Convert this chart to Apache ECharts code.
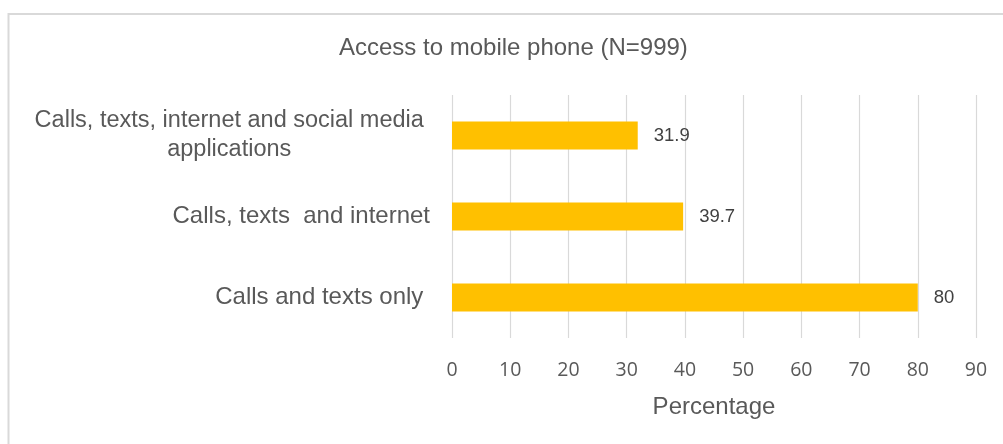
<!DOCTYPE html>
<html>
<head>
<meta charset="utf-8">
<script src="https://cdn.jsdelivr.net/npm/echarts@6/dist/echarts.min.js"></script>
<style>
  html, body { margin: 0; padding: 0; background: #ffffff; }
  #chart { width: 1003px; height: 444px; }
</style>
</head>
<body>
<div id="chart"></div>
<script>
// Access to mobile phone (N=999), share of respondents by type of use
const chartTitle = 'Access to mobile phone (N=999)';
const axisName = 'Percentage';
const categories = [
  'Calls and texts only ',
  'Calls, texts  and internet',
  'Calls, texts, internet and social media applications'
];
const percentages = [80, 39.7, 31.9];
const xTicks = { min: 0, max: 90, step: 10 };

const textGrey = '#595959';
const gridGrey = '#d9d9d9';
const barGold = '#FFC000';

const chart = echarts.init(document.getElementById('chart'), null, { renderer: 'canvas' });

// long category names wrap onto two centred lines
function wrapLabel(v) {
  if (v.length > 40) {
    const cut = v.lastIndexOf(' ');
    return '{c|' + v.slice(0, cut) + ' }\n{c|' + v.slice(cut + 1) + ' }';
  }
  return v;
}

chart.setOption({
  animation: false,
  backgroundColor: '#ffffff',
  title: {
    text: chartTitle,
    left: 339,
    top: 36,
    padding: 0,
    textStyle: {
      fontFamily: 'Liberation Sans, Arial, sans-serif',
      fontSize: 24,
      fontWeight: 'normal',
      color: textGrey
    }
  },
  graphic: [{
    type: 'rect',
    shape: { x: 8.5, y: 14, width: 1100, height: 600 },
    style: { fill: 'none', stroke: gridGrey, lineWidth: 2 },
    silent: true
  }],
  grid: { left: 452, right: 27, top: 95, bottom: 106 },
  xAxis: {
    type: 'value',
    min: xTicks.min,
    max: xTicks.max,
    interval: xTicks.step,
    name: axisName,
    nameLocation: 'middle',
    nameGap: 57,
    nameTextStyle: {
      fontFamily: 'Liberation Sans, Arial, sans-serif',
      fontSize: 24,
      color: textGrey
    },
    axisLine: { show: false },
    axisTick: { show: false },
    axisLabel: {
      margin: 22,
      fontFamily: 'Open Sans, sans-serif',
      fontSize: 19.5,
      color: textGrey
    },
    splitLine: { show: true, lineStyle: { color: gridGrey, width: 1.2 } }
  },
  yAxis: {
    type: 'category',
    data: categories,
    axisLine: { show: false },
    axisTick: { show: false },
    axisLabel: {
      margin: 22,
      align: 'right',
      fontFamily: 'Liberation Sans, Arial, sans-serif',
      fontSize: 24,
      color: textGrey,
      formatter: wrapLabel,
      rich: {
        c: {
          width: 395,
          align: 'center',
          fontFamily: 'Liberation Sans, Arial, sans-serif',
          fontSize: 23.5,
          lineHeight: 29,
          color: textGrey
        }
      }
    },
    splitLine: { show: false }
  },
  series: [{
    type: 'bar',
    data: percentages,
    barWidth: 28,
    itemStyle: { color: barGold },
    label: {
      show: true,
      position: 'right',
      distance: 16,
      fontFamily: 'Liberation Sans, Arial, sans-serif',
      fontSize: 18.5,
      color: '#404040'
    }
  }]
});
</script>
</body>
</html>
